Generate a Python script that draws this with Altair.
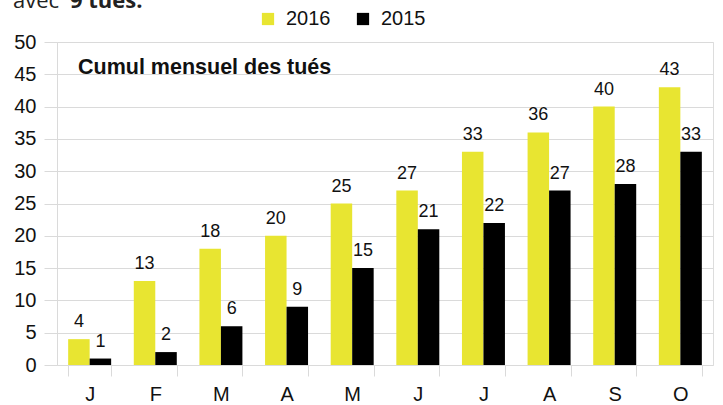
import altair as alt
import pandas as pd

months = ["J", "F", "M", "A", "M", "J", "J", "A", "S", "O"]
v2016 = [4, 13, 18, 20, 25, 27, 33, 36, 40, 43]
v2015 = [1, 2, 6, 9, 15, 21, 22, 27, 28, 33]
years = ["2016", "2015"]
colors = ["#E8E531", "#000000"]
y_ticks = list(range(0, 51, 5))

keys = [f"{i:02d}" for i in range(len(months))]
rows = []
for k, m, a, b in zip(keys, months, v2016, v2015):
    rows.append({"k": k, "m": m, "year": "2016", "v": a})
    rows.append({"k": k, "m": m, "year": "2015", "v": b})
df = pd.DataFrame(rows)

label_expr = "[" + ",".join(f"'{m}'" for m in months) + "][toNumber(datum.value)]"
FONT = "Liberation Sans"
GRID = "#dadada"

x = alt.X(
    "k:N",
    scale=alt.Scale(paddingInner=0.345, paddingOuter=0.17),
    axis=alt.Axis(
        labelExpr=label_expr, labelAngle=0, title=None, grid=False,
        tickBand="extent", tickSize=11, tickColor=GRID, domain=False,
        labelFontSize=20, labelFont=FONT, labelColor="#111", labelPadding=8,
    ),
)
y = alt.Y(
    "v:Q",
    scale=alt.Scale(domain=[0, 50], nice=False),
    axis=alt.Axis(
        values=y_ticks, title=None, grid=True, gridColor=GRID,
        domainColor=GRID, tickColor=GRID, tickSize=13, labelPadding=8,
        labelFontSize=20, labelFont=FONT, labelColor="#111",
    ),
)
xo = alt.XOffset("year:N", sort=years, scale=alt.Scale(domain=years))

base = alt.Chart(df)
bars = base.mark_bar().encode(
    x=x, xOffset=xo, y=y,
    color=alt.Color(
        "year:N", sort=years,
        scale=alt.Scale(domain=years, range=colors),
        legend=alt.Legend(
            title=None, orient="none", direction="horizontal",
            legendX=201, legendY=-33, symbolType="square", symbolSize=150,
            symbolStrokeWidth=0, labelFontSize=20, labelFont=FONT,
            labelColor="#111", columnPadding=22, labelOffset=8,
        ),
    ),
)
labels = base.mark_text(
    baseline="bottom", dy=-8, fontSize=18, font=FONT, color="#111"
).encode(x=x, xOffset=xo, y=y, text="v:Q")

title_df = pd.DataFrame({"t": ["Cumul mensuel des tués"]})
title = alt.Chart(title_df).mark_text(
    align="left", baseline="alphabetic", fontSize=21.5, fontWeight="bold",
    font=FONT, color="#111"
).encode(x=alt.value(21), y=alt.value(32), text="t:N")

top1 = alt.Chart(pd.DataFrame({"t": ["avec"]})).mark_text(
    align="left", baseline="alphabetic", fontSize=22, font="Open Sans", color="#222"
).encode(x=alt.value(13 - 57), y=alt.value(8 - 42), text="t:N")
top2 = alt.Chart(pd.DataFrame({"t": ["9 tués."]})).mark_text(
    align="left", baseline="alphabetic", fontSize=22, font="Open Sans",
    fontWeight="bold", color="#222"
).encode(x=alt.value(70 - 57), y=alt.value(8 - 42), text="t:N")

chart = alt.layer(bars, labels, title, top1, top2).properties(
    width=656, height=323,
    autosize=alt.AutoSizeParams(type="none"),
    padding={"left": 57, "top": 42, "right": 10, "bottom": 40},
).configure_view(stroke=GRID).configure(background="white")

chart.save("out.html", embed_options={"renderer": "svg", "actions": False})
